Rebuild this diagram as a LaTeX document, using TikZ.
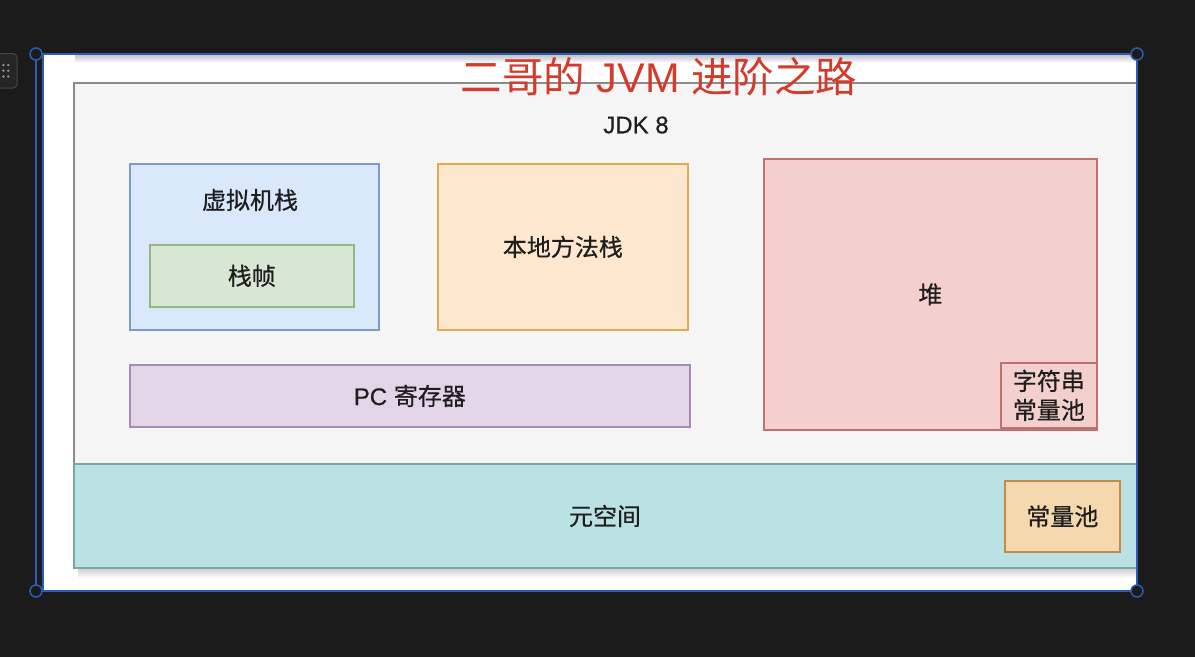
\documentclass[tikz,border=0pt]{standalone}
\usepackage{fontspec}
\setmainfont{Liberation Sans}[FakeBold=0.6]
\newfontfamily\cjk{Noto Sans CJK SC}[FakeBold=0.6]
\newfontfamily\cjktitle{Noto Sans CJK SC}
\newfontfamily\lattitle{Liberation Sans}
\definecolor{bgdark}{HTML}{1B1B1B}
\definecolor{handlefill}{HTML}{252525}
\definecolor{handledraw}{HTML}{474747}
\definecolor{dotgray}{HTML}{8A8A8A}
\definecolor{selblue}{HTML}{2E5CB2}
\definecolor{shadowgray}{HTML}{C4C4CC}
\definecolor{jdkfill}{HTML}{F5F5F5}
\definecolor{jdkdraw}{HTML}{8C8C8C}
\definecolor{bluefill}{HTML}{DAE8FC}
\definecolor{bluedraw}{HTML}{7C9BC9}
\definecolor{greenfill}{HTML}{D7E7D4}
\definecolor{greendraw}{HTML}{94B880}
\definecolor{orangefill}{HTML}{FDE7CF}
\definecolor{orangedraw}{HTML}{DDAC4E}
\definecolor{purplefill}{HTML}{E2D5E7}
\definecolor{purpledraw}{HTML}{A68CB5}
\definecolor{redfill}{HTML}{F3D0CE}
\definecolor{reddraw}{HTML}{C0726E}
\definecolor{tealfill}{HTML}{BAE2E4}
\definecolor{tealdraw}{HTML}{78A7AA}
\definecolor{poolfill}{HTML}{F6D8AE}
\definecolor{pooldraw}{HTML}{C28B48}
\definecolor{titlered}{HTML}{D33B2C}
\definecolor{textdark}{HTML}{1E1E1E}
\tikzset{
  area/.style={rectangle, anchor=north west, inner sep=0pt, line width=1.7pt,
    text=textdark, font=\fontsize{24}{29}\selectfont, align=center},
  lbl/.style={inner sep=0pt, text=textdark, font=\fontsize{24}{29}\selectfont},
  handle/.style={selblue, fill=bgdark, line width=1.5pt}
}
\begin{document}
\begin{tikzpicture}[x=1pt,y=-1pt]
\useasboundingbox (0,0) rectangle (1195,657);
\fill[bgdark] (0,0) rectangle (1195,657);
% drag handle on the left
\draw[fill=handlefill, draw=handledraw, rounded corners=4pt, line width=1pt] (-6,53.5) rectangle (17,88);
\foreach \yy in {65,70.7,76.5} \foreach \xx in {3.4,8.2} \fill[dotgray] (\xx,\yy) circle (1.4pt);
% canvas
\fill[white] (43,55) rectangle (1137,591);
\shade[top color=shadowgray, bottom color=white] (75,55) rectangle (1137,63);
\shade[top color=shadowgray, bottom color=white] (78,567) rectangle (1137,578);
\begin{scope}
\clip (43,55) rectangle (1137,591);
\node[area, fill=jdkfill, draw=jdkdraw, minimum width=1100pt, minimum height=382pt] (jdk) at (73,82) {};
\node[area, fill=tealfill, draw=tealdraw, minimum width=1100pt, minimum height=104pt] (meta) at (73,463) {};
\end{scope}
\node[lbl] (jdklbl) at (636,125) {JDK 8};
\node[area, fill=bluefill, draw=bluedraw, minimum width=249pt, minimum height=166pt] (vm) at (129,163) {};
\node[lbl] (vmlbl) at (250,200) {\cjk 虚拟机栈};
\node[area, fill=greenfill, draw=greendraw, minimum width=204pt, minimum height=62pt] (frame) at (149,244) {\cjk 栈帧};
\node[area, fill=orangefill, draw=orangedraw, minimum width=250pt, minimum height=166pt] (native) at (437,163) {\cjk 本地方法栈};
\node[area, fill=purplefill, draw=purpledraw, minimum width=560pt, minimum height=62pt] (pc) at (129,364) {PC {\cjk 寄存器}};
\node[area, fill=redfill, draw=reddraw, minimum width=333pt, minimum height=271pt] (heap) at (763,158) {\cjk 堆};
\node[area, fill=redfill, draw=reddraw, minimum width=96pt, minimum height=65pt] (strpool) at (1000,362) {\cjk 字符串\\\cjk 常量池};
\node[lbl] (metalbl) at (605,516) {\cjk 元空间};
\node[area, fill=poolfill, draw=pooldraw, minimum width=115pt, minimum height=71pt] (cpool) at (1004,480) {\cjk 常量池};
% title
\node[inner sep=0pt, text=titlered, font=\fontsize{41.5}{48}\selectfont] (title) at (659,77) {{\cjktitle 二哥的} {\lattitle JVM} {\cjktitle 进阶之路}};
% selection frame
\draw[selblue, line width=1.5pt] (36,54) rectangle (1137,591);
\draw[selblue, line width=1.5pt] (43,55) -- (43,591);
\foreach \p in {(36,54),(1137,54),(36,591),(1137,591)} \draw[handle] \p circle (6pt);
\end{tikzpicture}
\end{document}
